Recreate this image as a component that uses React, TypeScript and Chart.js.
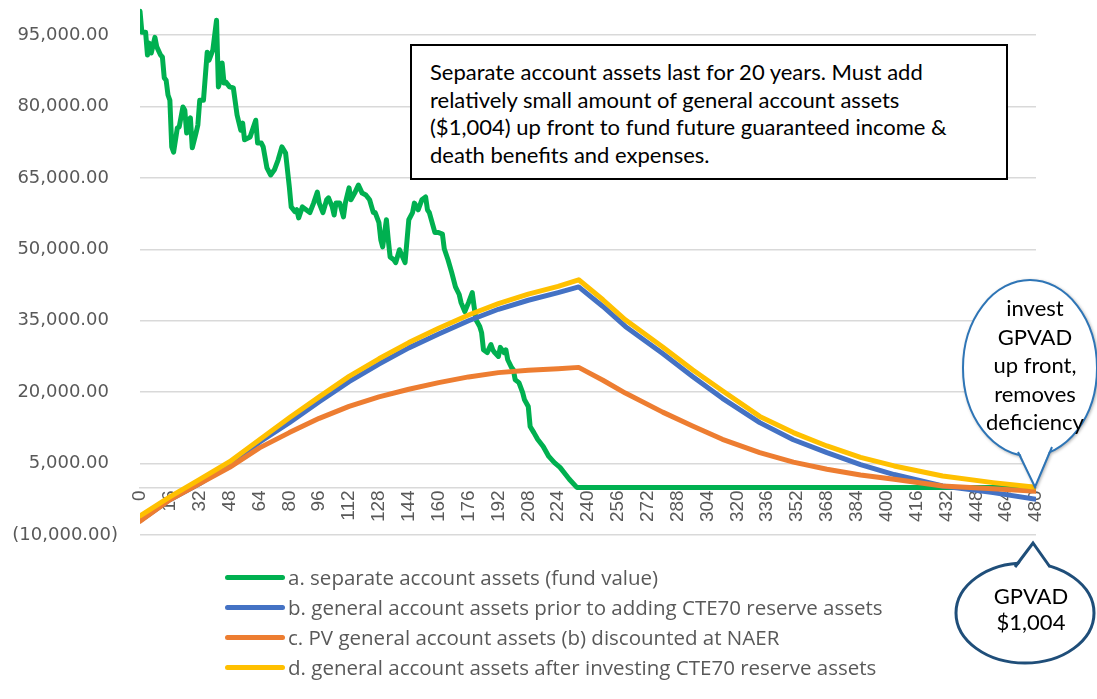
import React, { useEffect, useRef } from "react";
import { Chart, registerables } from "chart.js";

Chart.register(...registerables);

// ---- data ----
const seriesLabels = [
  "a. separate account assets (fund value)",
  "b. general account assets prior to adding CTE70 reserve assets",
  "c. PV general account assets (b) discounted at NAER",
  "d. general account assets after investing CTE70 reserve assets",
];

const seriesColors = ["#00b050", "#4472c4", "#ed7d31", "#ffc000"];

const greenMonths = [
  0, 1, 3, 4, 5, 6, 8, 9, 11, 12, 13, 14, 15, 16, 17, 18, 20, 21, 23, 24, 25, 26, 27, 28, 30, 31, 32, 34, 36, 37, 39,
  41, 42, 43, 44, 45, 46, 48, 50, 52, 54, 55, 56, 59, 62, 63, 65, 66, 68, 70, 72, 74, 76, 78, 80, 81, 83, 84, 85, 87,
  89, 91, 93, 95, 96, 98, 100, 101, 103, 104, 105, 107, 109, 110, 112, 113, 115, 117, 119, 121, 123, 125, 126, 128,
  129, 130, 132, 133, 134, 136, 137, 139, 142, 144, 146, 147, 149, 151, 153, 154, 155, 158, 160, 162, 163, 165, 167,
  169, 171, 172, 174, 176, 178, 179, 180, 182, 183, 184, 186, 188, 189, 190, 192, 193, 195, 196, 197, 199, 200, 201,
  203, 205, 206, 208, 209, 211, 213, 216, 219, 222, 225, 228, 230, 234, 240, 300, 360, 420, 480,
];
const greenValues = [
  100000, 95600, 95600, 90800, 93300, 91200, 94500, 92500, 90800, 90400, 86000, 85500, 82400, 81300, 71500, 70400,
  75500, 75700, 79900, 79200, 74400, 77100, 77600, 71300, 74400, 76100, 81300, 81300, 91400, 89700, 91800, 98100,
  84100, 85500, 89100, 84900, 85100, 84100, 83900, 78200, 75000, 76500, 73000, 73600, 77100, 72300, 72300, 71500,
  67100, 65600, 66700, 68800, 71500, 70200, 63100, 58900, 57900, 58300, 56600, 58900, 58300, 57700, 59700, 62000,
  59700, 57700, 60400, 60800, 58900, 57200, 59700, 59700, 56800, 59700, 62900, 60400, 61800, 63500, 61800, 61400,
  60400, 57700, 57700, 55600, 52000, 50500, 56200, 52000, 48400, 47800, 47200, 49900, 47200, 56200, 57700, 59700,
  58300, 60400, 61000, 58300, 57700, 53500, 53500, 53200, 50100, 47800, 45100, 42100, 40500, 38800, 36900, 38800,
  40900, 37900, 35200, 33800, 32500, 28900, 28300, 30000, 28900, 28300, 27500, 29400, 28300, 28900, 26800, 25200,
  24700, 22600, 22000, 19900, 18400, 17000, 12800, 11500, 10100, 8600, 6500, 5200, 4200, 2700, 1700, 0, 0, 0, 0, 0, 0,
];

const gaMonths = [
  0, 16, 32, 48, 64, 80, 96, 112, 128, 144, 160, 176, 192, 208, 224, 235, 248, 260, 280, 296, 312, 332, 350, 368, 386,
  404, 430, 457, 480,
];
const blueValues = [
  -7000, -2600, 800, 4800, 9500, 13600, 18000, 22200, 25900, 29300, 32200, 35000, 37400, 39300, 40900, 42100, 38000,
  33800, 28100, 23300, 18700, 13600, 10000, 7300, 4800, 2700, 300, -1100, -2500,
];
const orangeValues = [
  -7100, -2600, 800, 4200, 8300, 11500, 14500, 17000, 19000, 20600, 22000, 23200, 24100, 24600, 24900, 25200, 22500,
  19800, 15800, 12900, 10100, 7300, 5300, 3800, 2600, 1700, 300, -300, -800,
];
const yellowValues = [
  -6000, -2000, 1700, 5400, 10000, 14600, 19000, 23300, 27000, 30400, 33400, 36200, 38600, 40600, 42200, 43600, 39400,
  35200, 29500, 24700, 20300, 14900, 11500, 8700, 6300, 4500, 2400, 1000, 0,
];

const yTickValues = [-10000, 5000, 20000, 35000, 50000, 65000, 80000, 95000];
const yMin = -10000;
const yMax = 102350;
const xMin = 0;
const xMax = 480;
const xStep = 16;

const boxLines = [
  "Separate account assets last for 20 years. Must add",
  "relatively small amount of general account assets",
  "($1,004) up front to fund future guaranteed income &",
  "death benefits and expenses.",
];
const bubble1Lines = ["invest", "GPVAD", "up front,", "removes", "deficiency"];
const bubble2Lines = ["GPVAD", "$1,004"];

function fmt(v: number): string {
  const s = Math.abs(v).toLocaleString("en-US", { minimumFractionDigits: 2, maximumFractionDigits: 2 });
  return v < 0 ? "(" + s + ")" : s + "\u2002";
}

function pts(xs: number[], ys: number[]) {
  return xs.map((x, i) => ({ x, y: ys[i] }));
}

export default function App() {
  const canvasRef = useRef<HTMLCanvasElement | null>(null);

  useEffect(() => {
    const canvas = canvasRef.current;
    if (!canvas) return;
    const values = [
      pts(greenMonths, greenValues),
      pts(gaMonths, blueValues),
      pts(gaMonths, orangeValues),
      pts(gaMonths, yellowValues),
    ];
    const chart = new Chart(canvas, {
      type: "line",
      data: {
        datasets: values.map((d, i) => ({
          label: seriesLabels[i],
          data: d,
          borderColor: seriesColors[i],
          backgroundColor: seriesColors[i],
          borderWidth: 5,
          pointRadius: 0,
          tension: 0,
          borderJoinStyle: "round" as const,
          borderCapStyle: "round" as const,
          order: 3 - i,
        })),
      },
      options: {
        animation: false,
        responsive: false,
        devicePixelRatio: 1,
        layout: { padding: { left: 0, top: 0, right: 61, bottom: 164 } },
        plugins: { legend: { display: false }, tooltip: { enabled: false } },
        scales: {
          x: {
            type: "linear",
            position: { y: 0 } as any,
            min: xMin,
            max: xMax,
            grid: { display: false, drawTicks: false },
            border: { display: true, color: "#d9d9d9", width: 1.5 },
            ticks: {
              stepSize: xStep,
              autoSkip: false,
              minRotation: 90,
              maxRotation: 90,
              padding: 3,
              color: "#595959",
              font: { family: "'Liberation Sans Narrow', 'Liberation Sans', sans-serif", size: 19 },
            },
          },
          y: {
            type: "linear",
            min: yMin,
            max: yMax,
            afterBuildTicks: (scale: any) => {
              scale.ticks = yTickValues.map((v) => ({ value: v }));
            },
            afterFit: (scale: any) => {
              scale.width = 140;
              scale.paddingTop = 0;
              scale.paddingBottom = 0;
            },
            grid: { color: "#d9d9d9", lineWidth: 1.5, drawTicks: false },
            border: { display: false },
            ticks: {
              padding: 22,
              color: "#595959",
              font: { family: "'DejaVu Sans', sans-serif", size: 18 },
              callback: (v: any) => fmt(Number(v)),
            },
          },
        },
      },
    });
    return () => chart.destroy();
  }, []);

  const calloutFont = "Lato, 'Open Sans', sans-serif";

  return (
    <div
      style={{
        position: "fixed",
        left: 0,
        top: 0,
        width: 1097,
        height: 699,
        background: "#ffffff",
        overflow: "hidden",
      }}
    >
      <canvas ref={canvasRef} width={1097} height={699} style={{ position: "absolute", left: 0, top: 0 }} />

      {/* text box */}
      <div
        style={{
          position: "absolute",
          left: 410,
          top: 44,
          width: 598,
          height: 136,
          boxSizing: "border-box",
          border: "2px solid #000",
          background: "#fff",
          padding: "12px 0 0 18px",
          fontFamily: calloutFont,
          fontSize: 22,
          lineHeight: "27.7px",
          color: "#000",
          whiteSpace: "nowrap",
        }}
      >
        {boxLines.map((l, i) => (
          <div key={i}>{l}</div>
        ))}
      </div>

      {/* speech bubbles */}
      <svg width={1097} height={699} style={{ position: "absolute", left: 0, top: 0 }}>
        <g style={{ filter: "drop-shadow(1.5px 1.5px 1.5px rgba(0,0,0,0.3))" }}>
          <ellipse cx={1030} cy={368} rx={67} ry={88} fill="#fff" stroke="#2e75b6" strokeWidth={2} />
          <polygon points="1017,446 1035,487 1053,441" fill="#fff" stroke="none" />
          <polyline points="1018,452 1035,487 1052,447" fill="none" stroke="#2e75b6" strokeWidth={2} />
        </g>
        <g>
          <ellipse cx={1025} cy={613} rx={69} ry={50} fill="#fff" stroke="#1f4e79" strokeWidth={3} />
          <polygon points="1014,572 1033,543 1052,572" fill="#fff" stroke="none" />
          <polyline points="1015,567 1033,543 1050,567" fill="none" stroke="#1f4e79" strokeWidth={3} />
        </g>
      </svg>

      <div
        style={{
          position: "absolute",
          left: 980,
          top: 294,
          width: 110,
          textAlign: "center",
          fontFamily: calloutFont,
          fontSize: 22,
          lineHeight: "28.5px",
          color: "#000",
        }}
      >
        {bubble1Lines.map((l, i) => (
          <div key={i}>{l}</div>
        ))}
      </div>

      <div
        style={{
          position: "absolute",
          left: 981,
          top: 583,
          width: 100,
          textAlign: "center",
          fontFamily: calloutFont,
          fontSize: 22,
          lineHeight: "26px",
          color: "#000",
        }}
      >
        {bubble2Lines.map((l, i) => (
          <div key={i}>{l}</div>
        ))}
      </div>

      {/* legend */}
      <div style={{ position: "absolute", left: 225, top: 562 }}>
        {seriesLabels.map((l, i) => (
          <div key={i} style={{ display: "flex", alignItems: "center", height: 30 }}>
            <span
              style={{
                display: "inline-block",
                width: 60,
                height: 5,
                borderRadius: 3,
                background: seriesColors[i],
                marginRight: 3,
              }}
            />
            <span
              style={{
                fontFamily: "'Open Sans', sans-serif",
                fontSize: 20.5,
                color: "#595959",
                whiteSpace: "nowrap",
              }}
            >
              {l}
            </span>
          </div>
        ))}
      </div>
    </div>
  );
}
